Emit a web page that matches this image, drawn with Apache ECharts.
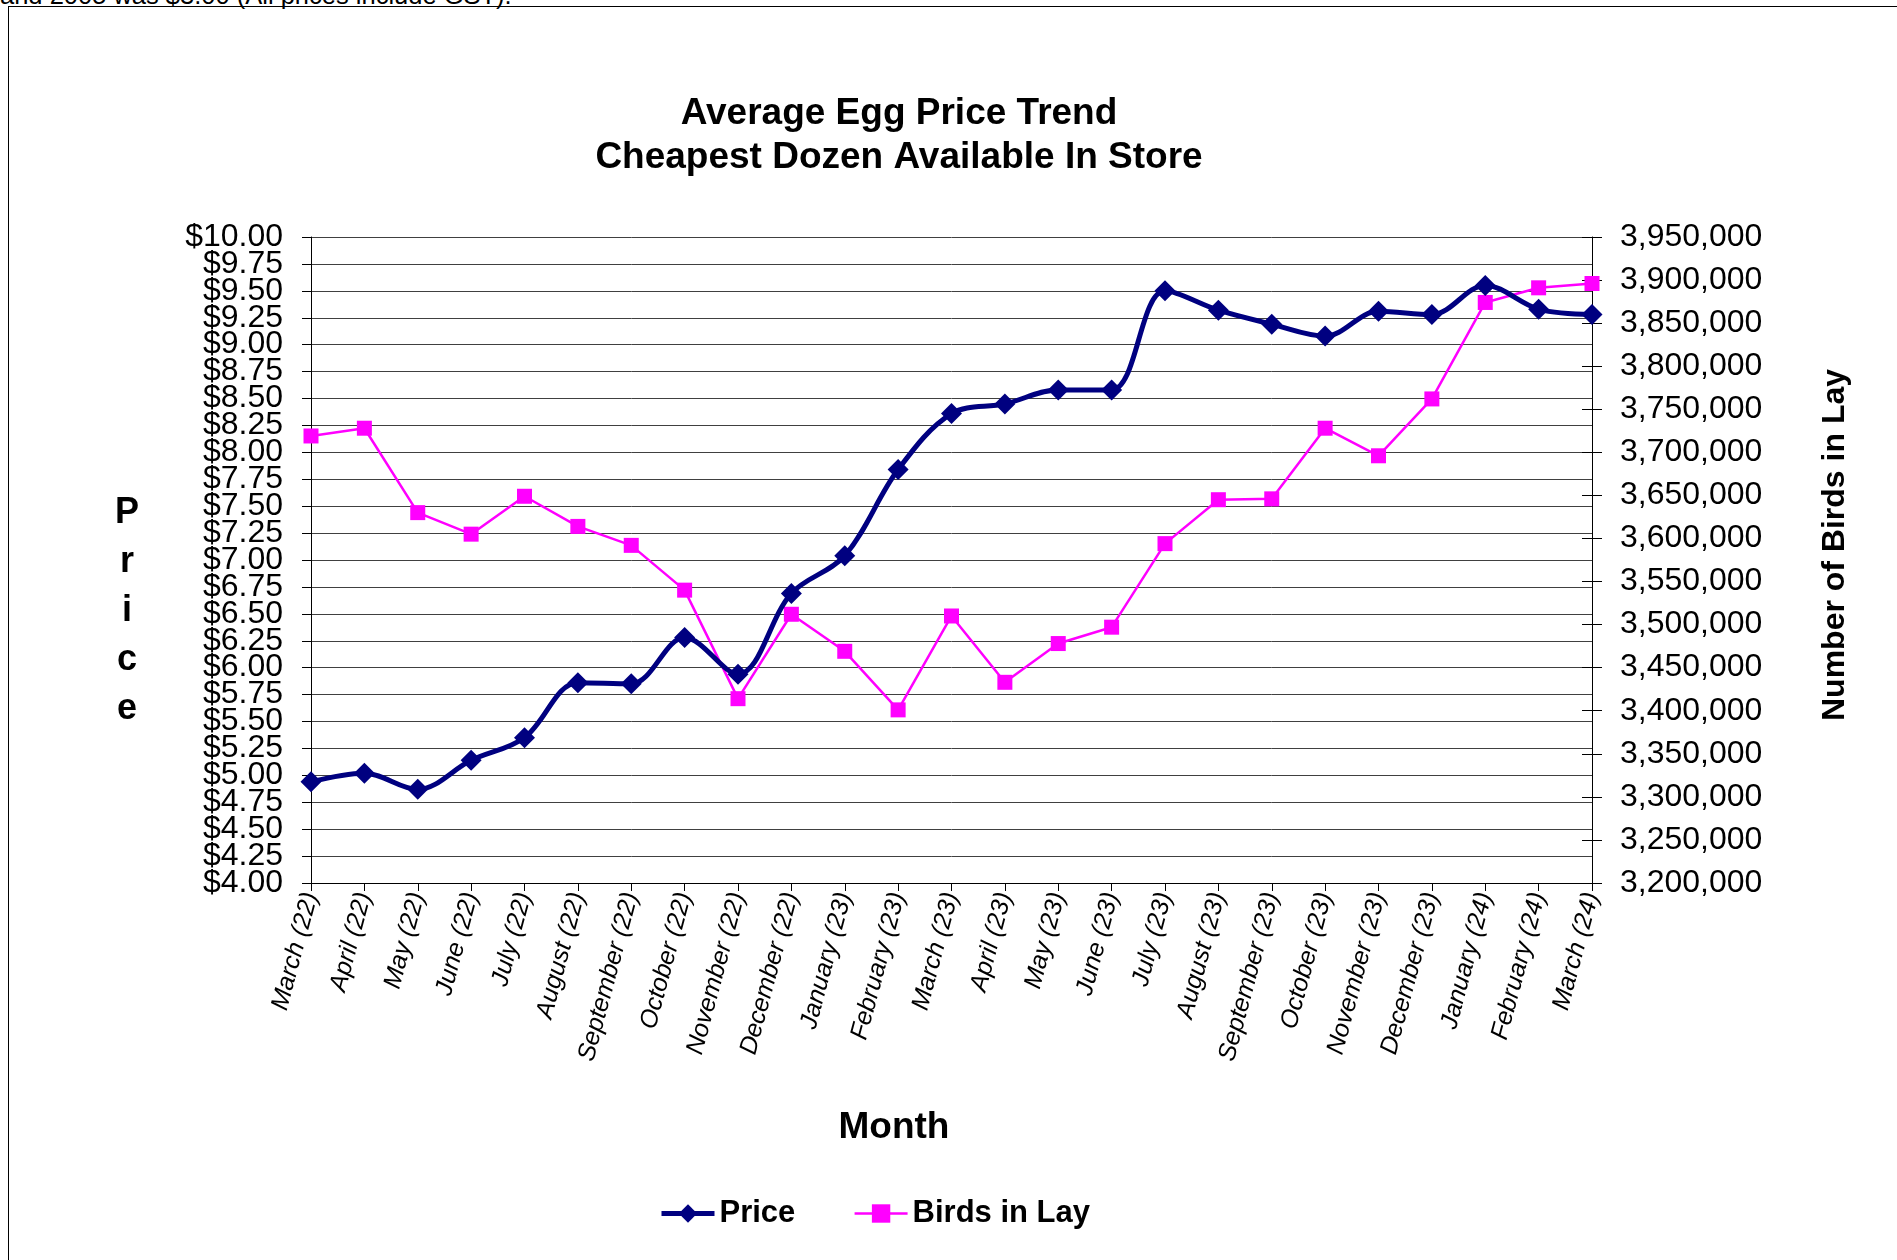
<!DOCTYPE html>
<html>
<head>
<meta charset="utf-8">
<title>Average Egg Price Trend</title>
<script src="https://cdn.jsdelivr.net/npm/echarts@6/dist/echarts.min.js"></script>
<style>
  html, body { margin: 0; padding: 0; background: #fff; overflow: hidden; }
  #page { position: relative; width: 1897px; height: 1260px; overflow: hidden; }
  #chart { position: absolute; left: 0; top: 0; width: 1897px; height: 1260px; }
  .cut-text {
    position: absolute; left: 0; top: -17px; margin: 0;
    font-family: 'Liberation Sans', Arial, sans-serif; font-size: 25.5px; line-height: 1;
    color: #000; white-space: nowrap;
  }
  .frame {
    position: absolute; left: 8px; top: 6px; width: 2000px; height: 1400px;
    border-left: 1px solid #000; border-top: 1px solid #000;
  }
</style>
</head>
<body>
<div id="page">
  <p class="cut-text">and 2005 was $3.00 (All prices include GST).</p>
  <div class="frame"></div>
  <div id="chart"></div>
</div>
<script>
// months on the x axis
const months = [
  'March (22)', 'April (22)', 'May (22)', 'June (22)', 'July (22)', 'August (22)',
  'September (22)', 'October (22)', 'November (22)', 'December (22)', 'January (23)',
  'February (23)', 'March (23)', 'April (23)', 'May (23)', 'June (23)', 'July (23)',
  'August (23)', 'September (23)', 'October (23)', 'November (23)', 'December (23)',
  'January (24)', 'February (24)', 'March (24)'
]

// cheapest dozen price, $
const priceValues = [
  4.94, 5.02, 4.87, 5.14, 5.35, 5.86, 5.85, 6.28, 5.94, 6.69,
  7.04, 7.84, 8.36, 8.45, 8.58, 8.58, 9.50, 9.32, 9.19, 9.08,
  9.31, 9.28, 9.55, 9.33, 9.28
]

// number of birds in lay
const birdsValues = [
  3719000, 3728000, 3630000, 3605000, 3649000, 3614000, 3592000, 3540000, 3414000, 3512000,
  3469000, 3401000, 3510000, 3433000, 3478000, 3497000, 3594000, 3645000, 3646000, 3728000,
  3696000, 3762000, 3874000, 3891000, 3896000
]

// axis ranges (tick labels come from these)
const priceMin = 4
const priceMax = 10
const priceStep = 0.25
const birdsMin = 3200000
const birdsMax = 3950000
const birdsStep = 50000

const FONT = "'Liberation Sans', Arial, sans-serif"
const NAVY = '#000080'
const MAGENTA = '#FF00FF'

const priceLabel = (v) => '$' + v.toFixed(2)

const chart = echarts.init(document.getElementById('chart'))

chart.setOption({
  backgroundColor: 'transparent',
  animation: false,
  textStyle: { fontFamily: FONT, color: '#000' },
  title: {
    text: 'Average Egg Price Trend\nCheapest Dozen Available In Store',
    left: 899,
    top: 92,
    textAlign: 'center',
    padding: 0,
    textStyle: { fontFamily: FONT, fontSize: 37, fontWeight: 'bold', lineHeight: 44, color: '#000' }
  },
  legend: {
    left: 654,
    top: 1193,
    itemWidth: 53,
    itemHeight: 23,
    itemGap: 58,
    textStyle: { fontFamily: FONT, fontSize: 31, fontWeight: 'bold', color: '#000' },
    data: [
      { name: 'Price', lineStyle: { width: 5 } },
      { name: 'Birds in Lay', lineStyle: { width: 2.5 } }
    ]
  },
  grid: { left: 311, right: 305, top: 237, bottom: 377, containLabel: false },
  xAxis: {
    type: 'category',
    data: months,
    boundaryGap: false,
    axisLine: { lineStyle: { color: '#000', width: 1 } },
    axisTick: { length: 8, lineStyle: { color: '#000' } },
    axisLabel: {
      interval: 0,
      rotate: 75,
      margin: 10,
      fontFamily: FONT,
      fontSize: 25,
      fontStyle: 'italic',
      color: '#000'
    },
    splitLine: { show: false }
  },
  yAxis: [
    {
      type: 'value',
      position: 'left',
      min: priceMin,
      max: priceMax,
      interval: priceStep,
      axisLine: { show: true, lineStyle: { color: '#000', width: 1 } },
      axisTick: { show: true, length: 9, lineStyle: { color: '#000' } },
      axisLabel: {
        margin: 28,
        fontFamily: FONT,
        fontSize: 32,
        color: '#000',
        // end labels are drawn by the helper axis below, otherwise echarts drops their neighbours
        showMinLabel: false,
        showMaxLabel: false,
        formatter: priceLabel
      },
      splitLine: { show: true, lineStyle: { color: '#404040', width: 1 } }
    },
    {
      type: 'value',
      position: 'right',
      min: birdsMin,
      max: birdsMax,
      interval: birdsStep,
      axisLine: { show: true, lineStyle: { color: '#000', width: 1 } },
      axisTick: { show: true, length: 10, lineStyle: { color: '#000' } },
      axisLabel: {
        margin: 28,
        fontFamily: FONT,
        fontSize: 32,
        color: '#000',
        showMinLabel: true,
        showMaxLabel: true,
        formatter: (v) => v.toLocaleString('en-US')
      },
      splitLine: { show: false }
    },
    {
      // inner half of the crossing ticks on the right axis
      type: 'value',
      position: 'right',
      min: birdsMin,
      max: birdsMax,
      interval: birdsStep,
      axisLine: { show: false },
      axisTick: { show: true, inside: true, length: 10, lineStyle: { color: '#000' } },
      axisLabel: { show: false },
      splitLine: { show: false }
    },
    {
      // helper: $4.00 and $10.00 labels + ticks
      type: 'value',
      position: 'left',
      min: priceMin,
      max: priceMax,
      interval: 2,
      axisLine: { show: false },
      axisTick: { show: true, length: 9, lineStyle: { color: '#000' } },
      axisLabel: {
        margin: 28,
        fontFamily: FONT,
        fontSize: 32,
        color: '#000',
        showMinLabel: true,
        showMaxLabel: true,
        formatter: (v) => (v === priceMin || v === priceMax ? priceLabel(v) : '')
      },
      splitLine: { show: false }
    }
  ],
  graphic: [
    {
      type: 'text',
      x: 127,
      y: 611,
      style: {
        text: 'P\nr\ni\nc\ne',
        font: 'bold 36px ' + FONT,
        lineHeight: 49,
        align: 'center',
        verticalAlign: 'middle',
        fill: '#000'
      }
    },
    {
      type: 'text',
      x: 894,
      y: 1128,
      style: {
        text: 'Month',
        font: 'bold 37px ' + FONT,
        align: 'center',
        verticalAlign: 'middle',
        fill: '#000'
      }
    },
    {
      type: 'text',
      x: 1835,
      y: 545,
      rotation: Math.PI / 2,
      style: {
        text: 'Number of Birds in Lay',
        font: 'bold 32px ' + FONT,
        align: 'center',
        verticalAlign: 'middle',
        fill: '#000'
      }
    }
  ],
  series: [
    {
      name: 'Price',
      type: 'line',
      yAxisIndex: 0,
      data: priceValues,
      smooth: 0.35,
      symbol: 'diamond',
      symbolSize: 21,
      lineStyle: { color: NAVY, width: 5 },
      itemStyle: { color: NAVY },
      z: 3
    },
    {
      name: 'Birds in Lay',
      type: 'line',
      yAxisIndex: 1,
      data: birdsValues,
      symbol: 'rect',
      symbolSize: 15,
      lineStyle: { color: MAGENTA, width: 2.5 },
      itemStyle: { color: MAGENTA },
      z: 2
    }
  ]
})
</script>
</body>
</html>
